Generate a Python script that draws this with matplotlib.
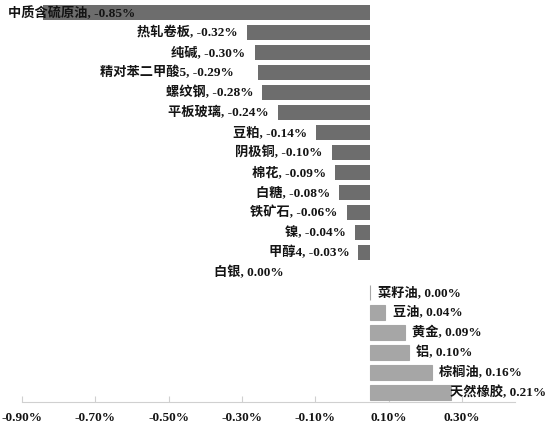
import matplotlib
matplotlib.use('Agg')
import matplotlib.pyplot as plt
import numpy as np

## 数据: 下跌品种 / 上涨品种 (涨跌幅, %)
fall_names = ['中质含硫原油', '热轧卷板', '纯碱', '精对苯二甲酸5', '螺纹钢', '平板玻璃', '豆粕',
              '阴极铜', '棉花', '白糖', '铁矿石', '镍', '甲醇4', '白银']
fall_values = [-0.85, -0.32, -0.30, -0.29, -0.28, -0.24, -0.14,
               -0.10, -0.09, -0.08, -0.06, -0.04, -0.03, 0.00]
rise_names = ['菜籽油', '豆油', '黄金', '铝', '棕榈油', '天然橡胶']
rise_values = [0.00, 0.04, 0.09, 0.10, 0.16, 0.21]

tick_values = [-0.9, -0.7, -0.5, -0.3, -0.1, 0.1, 0.3]
tick_labels = ['-0.90%', '-0.70%', '-0.50%', '-0.30%', '-0.10%', '0.10%', '0.30%']

font = dict(family=['Liberation Serif', 'Noto Sans CJK SC'], weight='bold', size=9.5, color='#141414')

W, H = 550, 430
fig = plt.figure(figsize=(W / 100, H / 100), dpi=100)

## 底部刻度轴 (原图的刻度与柱子比例不完全一致)
ax2 = fig.add_axes([22 / W, 1 - 402 / H, 493 / W, 399 / H])
ax2.set_xlim(-0.9, -0.9 + 493 / 366.7)
ax2.patch.set_visible(False)
for s in ['top', 'left', 'right']:
    ax2.spines[s].set_visible(False)
ax2.spines['bottom'].set_color('#d0d0d0')
ax2.set_yticks([])
ax2.set_xticks(tick_values)
ax2.set_xticklabels(tick_labels, **font)
ax2.tick_params(axis='x', direction='in', length=4, color='#d0d0d0', pad=7)

## 柱状图
ax = fig.add_axes([0, 1 - 402 / H, 1, 399 / H], zorder=2)
ax.patch.set_visible(False)
ax.set_xlim(-370 / 385, (W - 370) / 385)
n = len(fall_names) + len(rise_names)
ax.set_ylim(n - 0.5, -0.5)
ax.axis('off')

y_fall = np.arange(len(fall_names))
y_rise = np.arange(len(fall_names), n)
ax.barh(y_fall, fall_values, height=0.75, color='#6d6d6d')
ax.barh(y_rise, rise_values, height=0.75, color='#a6a6a6', edgecolor='#a6a6a6', linewidth=0.8)

texts = []
for i, (nm, v) in enumerate(zip(fall_names, fall_values)):
    dx = -6.5
    if nm == '白银':
        dx = -62  # 原图中这个标签偏左
    elif nm == '精对苯二甲酸5':
        dx = -18
    t = ax.annotate(f'{nm}, {v:.2f}%', (v, y_fall[i]), xytext=(dx, 0), textcoords='offset points',
                    ha='right', va='center', **font)
    texts.append(t)
for i, (nm, v) in enumerate(zip(rise_names, rise_values)):
    t = ax.annotate(f'{nm}, {v:.2f}%', (v, y_rise[i]), xytext=(5.5, 0), textcoords='offset points',
                    ha='left', va='center', **font)
    texts.append(t)

## 放不下的标签贴边 (像素 -> 点: *0.72)
fig.canvas.draw()
r = fig.canvas.get_renderer()
for t in texts:
    bb = t.get_window_extent(r)
    if bb.x0 < 8:
        t.set_position((t.xyann[0] + (8 - bb.x0) * 0.72, 0))
    elif bb.x1 > W - 4:
        t.set_position((t.xyann[0] - (bb.x1 - (W - 4)) * 0.72, 0))

fig.savefig('out.png', dpi=100)
